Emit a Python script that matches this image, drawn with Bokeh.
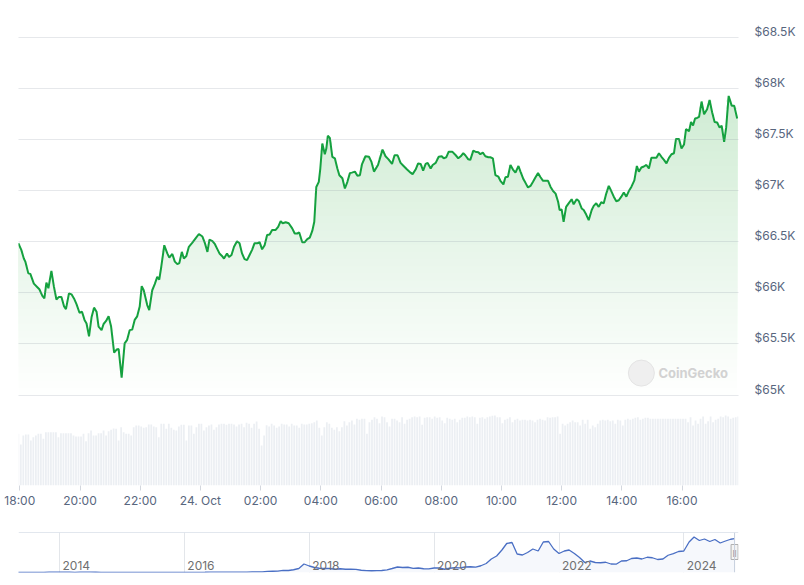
import numpy as np
import pandas as pd
from bokeh.plotting import figure
from bokeh.models import Range1d, FixedTicker, CustomJSTickFormatter, Span
from bokeh.layouts import column
from bokeh.embed import file_html
from bokeh.resources import INLINE
from bokeh.core.properties import value

# ---------------- data ----------------
start_time = "2024-10-23 18:00"   # reference time for offsets (minutes)

price_minutes = [
    -3, 3, 8, 11, 17, 21, 28, 35, 39, 45, 49, 53, 57, 63, 68, 73, 78, 83, 88, 92,
    98, 103, 108, 113, 119, 124, 129, 133, 138, 143, 148, 153, 157, 163, 167, 172, 177, 182, 188, 193,
    197, 203, 209, 214, 219, 224, 229, 234, 239, 243, 247, 254, 258, 264, 269, 274, 278, 282, 288, 294,
    298, 304, 309, 314, 318, 323, 327, 332, 337, 344, 350, 357,
    364, 369, 374, 378, 384, 389, 393, 398, 403, 407, 413, 417, 422, 427, 433, 438, 443, 448, 453, 458,
    463, 468, 474, 478, 483, 488, 493, 498, 503, 510, 515, 520, 524, 530, 536, 543, 548, 553, 557, 563,
    568, 573, 578, 583, 587, 591, 596, 599, 603, 608, 611, 614, 618, 623, 628, 633, 637, 643, 648, 653,
    658, 662, 668, 673, 678, 682, 689, 696, 701, 706, 714,
    723, 729, 735, 742, 747, 753, 759, 765, 772, 779, 783, 789, 794, 799, 804, 809, 813, 819, 823, 829,
    835, 841, 845, 850, 855, 862, 869, 874, 879, 884, 888, 894, 898, 904, 908, 914, 918, 923, 928, 934,
    938, 943, 948, 954, 958, 964, 968, 973, 978, 983, 988, 994, 998, 1004, 1008, 1013, 1018, 1023, 1028, 1033,
    1038, 1043, 1048, 1053, 1058, 1063, 1068,
    1073, 1076, 1080, 1084, 1089, 1094, 1100, 1104, 1110, 1114, 1120, 1124, 1129, 1134, 1140, 1144, 1149, 1154, 1159, 1164,
    1169, 1174, 1179, 1184, 1189, 1194, 1199, 1204, 1209, 1214, 1219, 1225, 1230, 1234, 1239, 1244, 1249, 1254, 1259, 1264,
    1269, 1274, 1279, 1284, 1289, 1294, 1299, 1304, 1308, 1314, 1319, 1324, 1328, 1334, 1338, 1342, 1346, 1350, 1354, 1359,
    1364, 1370, 1375, 1380, 1385, 1390, 1395, 1399, 1404, 1408, 1413, 1419, 1424, 1430,
]

price_usd = [
    66485, 66420, 66335, 66305, 66190, 66185, 66090, 66055, 66035, 65970, 65945, 66100, 66045, 66215, 66060, 65935, 65960, 65960, 65870, 65840,
    65995, 65985, 65945, 65890, 65805, 65815, 65735, 65700, 65575, 65760, 65855, 65815, 65670, 65635, 65695, 65725, 65770, 65670, 65415, 65445,
    65450, 65170, 65505, 65540, 65635, 65640, 65735, 65770, 65865, 66065, 66025, 65880, 65830, 66025, 66085, 66155, 66130, 66255, 66465, 66385,
    66345, 66380, 66305, 66280, 66290, 66400, 66335, 66360, 66450, 66490, 66530, 66575,
    66550, 66485, 66400, 66520, 66505, 66475, 66435, 66385, 66360, 66335, 66385, 66350, 66370, 66450, 66505, 66485, 66385, 66330, 66320, 66370,
    66420, 66485, 66485, 66495, 66425, 66465, 66565, 66570, 66615, 66615, 66645, 66700, 66680, 66690, 66680, 66630, 66580, 66580, 66590, 66495,
    66495, 66525, 66540, 66605, 66695, 67035, 67085, 67215, 67460, 67355, 67410, 67535, 67515, 67330, 67315, 67215, 67150, 67120, 67020, 67085,
    67170, 67175, 67185, 67145, 67150, 67255, 67335, 67330, 67280, 67185, 67250,
    67400, 67335, 67305, 67260, 67345, 67345, 67270, 67240, 67205, 67175, 67160, 67205, 67265, 67260, 67195, 67260, 67270, 67215, 67250, 67270,
    67330, 67335, 67315, 67325, 67380, 67380, 67345, 67315, 67335, 67365, 67345, 67305, 67300, 67390, 67380, 67375, 67355, 67370, 67335, 67325,
    67325, 67315, 67150, 67135, 67095, 67060, 67130, 67135, 67250, 67205, 67175, 67240, 67185, 67110, 67075, 67030, 67045, 67085, 67130, 67170,
    67130, 67095, 67095, 67095, 67035, 66995, 66970,
    66890, 66810, 66815, 66695, 66840, 66875, 66915, 66865, 66915, 66900, 66825, 66810, 66765, 66710, 66810, 66850, 66875, 66840, 66885, 66875,
    66970, 67045, 66995, 66940, 66895, 66905, 66940, 66980, 66940, 66995, 67035, 67100, 67240, 67185, 67225, 67235, 67250, 67215, 67320, 67320,
    67320, 67365, 67330, 67300, 67265, 67320, 67355, 67365, 67505, 67505, 67410, 67450, 67600, 67580, 67670, 67635, 67705, 67710, 67720, 67870,
    67745, 67795, 67885, 67765, 67670, 67665, 67615, 67635, 67475, 67615, 67925, 67830, 67830, 67705,
]

# 24h volume (billion USD), one bar every 5 minutes starting at vol_start
vol_start = "2024-10-23 17:57"
vol_step_minutes = 5
volume_bn = [
    31.0, 24.6, 30.0, 30.6, 30.6, 27.0, 29.0, 30.0, 31.0, 31.0,
    28.0, 32.0, 32.0, 32.0, 32.0, 32.0, 29.0, 31.4, 31.4, 31.4,
    31.4, 31.4, 30.0, 29.4, 29.4, 29.4, 31.0, 26.6, 31.4, 33.0,
    30.0, 30.0, 31.4, 31.4, 33.0, 30.0, 32.6, 33.4, 34.2, 34.0,
    27.0, 35.0, 32.0, 31.0, 31.0, 30.0, 35.0, 36.0, 36.0, 35.4,
    34.6, 35.0, 36.6, 36.6, 35.4, 35.0, 29.0, 37.0, 37.0, 34.0,
    37.0, 34.6, 33.4, 33.0, 35.4, 36.4, 36.4, 27.0, 36.0, 36.0,
    31.0, 35.0, 37.0, 37.0, 33.0, 35.0, 36.0, 36.6, 33.4, 35.0,
    36.6, 37.0, 37.0, 36.4, 37.0, 37.0, 36.6, 35.4, 36.6, 37.0,
    35.0, 37.6, 37.0, 34.6, 37.0, 38.4, 34.0, 24.0, 30.0, 36.2,
    35.4, 37.0, 36.0, 34.6, 35.4, 37.0, 36.6, 36.6, 35.4, 37.0,
    36.0, 36.0, 34.6, 37.0, 36.6, 36.6, 37.0, 37.4, 38.0, 39.0,
    34.6, 30.0, 35.0, 38.0, 37.0, 34.6, 33.4, 35.0, 32.6, 35.0,
    38.6, 36.0, 38.0, 39.0, 36.6, 40.0, 39.4, 40.0, 40.0, 31.0,
    38.0, 39.4, 41.0, 40.0, 37.4, 41.4, 41.0, 38.0, 35.4, 40.0,
    40.0, 39.0, 38.0, 41.0, 37.0, 39.4, 40.0, 41.0, 41.4, 41.0,
    41.4, 36.4, 40.6, 41.0, 41.0, 40.0, 41.4, 40.6, 41.0, 39.0,
    37.4, 40.6, 40.0, 39.4, 40.0, 38.0, 39.4, 40.6, 40.6, 41.4,
    41.0, 41.4, 41.0, 37.0, 40.6, 41.0, 40.0, 41.0, 41.4, 41.8,
    42.0, 41.0, 41.0, 37.4, 39.4, 40.0, 41.0, 38.0, 39.4, 40.0,
    39.0, 39.4, 39.4, 39.0, 39.4, 39.0, 38.0, 39.4, 40.0, 39.4,
    39.0, 41.0, 40.6, 41.0, 41.0, 41.4, 31.0, 37.0, 36.0, 37.0,
    38.0, 39.0, 38.0, 38.0, 36.0, 39.4, 37.0, 39.4, 34.0, 36.0,
    35.0, 37.0, 39.0, 39.4, 39.0, 39.4, 38.6, 39.0, 37.0, 39.4,
    39.0, 36.0, 39.4, 40.0, 39.4, 40.0, 40.6, 41.0, 39.4, 40.0,
    40.6, 40.6, 40.0, 40.0, 40.0, 40.0, 40.0, 40.0, 40.0, 40.0,
    40.0, 40.0, 40.0, 40.0, 40.0, 40.0, 40.0, 38.0, 41.0, 36.0,
    39.0, 37.0, 40.0, 41.4, 37.0, 38.6, 41.4, 38.0, 39.4, 40.0,
    41.4, 41.0, 42.0, 41.4, 40.0, 40.6, 41.0, 41.4,
]

price_ticks = [65000, 65500, 66000, 66500, 67000, 67500, 68000, 68500]
time_tick_hours = [0, 2, 4, 6, 8, 10, 12, 14, 16, 18, 20, 22]
time_tick_labels = ["18:00", "20:00", "22:00", "24. Oct", "02:00", "04:00",
                    "06:00", "08:00", "10:00", "12:00", "14:00", "16:00"]

# Navigator: monthly BTC price (USD), from May 2013
nav_first_month = "2013-05-01"
nav_monthly_usd = [
    120, 110, 90, 120, 130, 180, 700, 750,
    850, 600, 550, 450, 600, 620, 590, 500, 400, 350, 380, 330,
    250, 240, 260, 230, 235, 240, 280, 230, 235, 270, 330, 430,
    400, 420, 410, 430, 500, 650, 660, 580, 600, 650, 730, 900,
    950, 1100, 1100, 1300, 2200, 2500, 2700, 4300, 4000, 5500, 8000, 17000,
    13000, 10000, 8500, 8000, 8000, 6500, 7500, 6500, 6500, 6400, 4500, 3800,
    3500, 3800, 4000, 5200, 8000, 11000, 10000, 10500, 8300, 9000, 7500, 7200,
    9000, 9000, 6500, 8500, 9500, 9200, 11000, 11500, 10800, 13500, 18000, 27000,
    33000, 45000, 58000, 60000, 37000, 35000, 40000, 47000, 43000, 61000, 62000, 47000,
    38000, 43000, 45000, 38000, 30000, 20000, 23000, 20000, 19500, 20500, 17000, 16600,
    23000, 23500, 28000, 29000, 27000, 30500, 29500, 26000, 27000, 34500, 37700, 42000,
    43000, 61000, 71000, 64000, 67000, 62000, 66000, 59000, 63000, 66500,
]
nav_last_date = "2024-10-24"
nav_last_usd = 67700
nav_years = [2014, 2016, 2018, 2020, 2022, 2024]

# ---------------- styles ----------------
GREEN = "#15a13f"
FILL_TOP = (198, 232, 203)      # gradient colour at the top of the price pane
FILL_BOTTOM = (255, 255, 255)   # ... fading to white at its bottom
FONT = "Inter"
LABEL_COLOR = "#58667e"

base = pd.Timestamp(start_time)
t_price = base + pd.to_timedelta(price_minutes, unit="m")
price = np.array(price_usd, dtype=float)
t_vol = pd.Timestamp(vol_start) + pd.to_timedelta(np.arange(len(volume_bn)) * vol_step_minutes, unit="m")

x_start = base - pd.Timedelta(minutes=2.6)
x_end = base + pd.Timedelta(minutes=1432.6)

p = figure(width=804, height=515, x_axis_type="datetime",
           x_range=Range1d(x_start, x_end), y_range=Range1d(64116, 68506),
           y_axis_location="right",
           output_backend="svg", toolbar_location=None,
           min_border_left=18, min_border_right=66, min_border_top=36, min_border_bottom=30)
p.outline_line_color = None
p.background_fill_color = "white"
p.border_fill_color = "white"

# volume bars on their own scale
p.extra_y_ranges = {"vol": Range1d(0, 269.4)}
p.vbar(x=t_vol, top=volume_bn, bottom=0, width=3.5 * 60000, y_range_name="vol",
       fill_color="#eceff3", line_color=None)

# vertical gradient under the line: opaque layers, each covering from its level up to the line
pane_lo, pane_hi = price_ticks[0], price_ticks[-1]
levels = np.linspace(pane_lo, pane_hi, 51)[:-1]
for lo in levels:
    f = (lo + (levels[1] - levels[0]) / 2 - pane_lo) / (pane_hi - pane_lo)
    rgb = tuple(int(round(b + (t - b) * f)) for t, b in zip(FILL_TOP, FILL_BOTTOM))
    p.varea(x=t_price, y1=lo, y2=np.maximum(price, lo),
            fill_color="#%02x%02x%02x" % rgb, fill_alpha=1.0)

p.line(t_price, price, line_color=GREEN, line_width=2)

# watermark
wm_t = base + pd.Timedelta(minutes=1239)
p.scatter(x=[wm_t], y=[65215], size=26, fill_color="#efefef", line_color="#e4e4e4")
p.text(x=[wm_t], y=[65215], text=["CoinGecko"], x_offset=17, text_baseline="middle",
       text_font=value(FONT), text_font_size="13px", text_font_style="bold", text_color="#d2d2d2")

# grids / axes
p.xgrid.visible = False
p.ygrid.ticker = FixedTicker(ticks=price_ticks)
p.ygrid.level = "guide"
p.ygrid.grid_line_color = "#8f98a6"
p.ygrid.grid_line_alpha = 0.22

p.yaxis.ticker = FixedTicker(ticks=price_ticks)
# second (blank) line lifts each label a little above its grid line
p.yaxis.formatter = CustomJSTickFormatter(code="return '$' + (tick/1000) + 'K\\n ';")
p.yaxis.axis_line_color = None
p.yaxis.major_tick_line_color = None
p.yaxis.minor_tick_line_color = None
p.yaxis.major_tick_out = 0
p.yaxis.major_tick_in = 0
p.yaxis.major_label_standoff = 16
p.yaxis.major_label_text_font = FONT
p.yaxis.major_label_text_font_size = "12px"
p.yaxis.major_label_text_line_height = 0.8
p.yaxis.major_label_text_color = LABEL_COLOR

x_ticks = [int((base + pd.Timedelta(hours=h)).value // 10**6) for h in time_tick_hours]
p.xaxis.ticker = FixedTicker(ticks=x_ticks)
p.xaxis.major_label_overrides = dict(zip(x_ticks, time_tick_labels))
p.xaxis.axis_line_color = None
p.xaxis.major_tick_line_color = "#d3d7de"
p.xaxis.major_tick_out = 5
p.xaxis.major_tick_in = 0
p.xaxis.minor_tick_line_color = None
p.xaxis.major_label_standoff = 2
p.xaxis.major_label_text_font = FONT
p.xaxis.major_label_text_font_size = "12px"
p.xaxis.major_label_text_color = LABEL_COLOR

# ---------------- navigator ----------------
nav_dates = list(pd.date_range(nav_first_month, periods=len(nav_monthly_usd), freq="MS")) + [pd.Timestamp(nav_last_date)]
nav_vals = nav_monthly_usd + [nav_last_usd]

nav = figure(width=804, height=70, x_axis_type="datetime",
             x_range=Range1d(pd.Timestamp("2013-05-06"), pd.Timestamp("2024-11-16")),
             y_range=Range1d(0, 80000),
             x_axis_location=None, y_axis_location=None,
             output_backend="svg", toolbar_location=None,
             min_border_left=18, min_border_right=63, min_border_top=17, min_border_bottom=13)
nav.outline_line_color = None
nav.ygrid.visible = False
year_dates = [pd.Timestamp(f"{y}-01-01") for y in nav_years]
nav.xgrid.ticker = FixedTicker(ticks=[int(d.value // 10**6) for d in year_dates])
nav.xgrid.grid_line_color = "#e3e6ea"

nav.varea(x=nav_dates, y1=0, y2=nav_vals, fill_color="#f6f8fc", fill_alpha=1.0)
nav.line(nav_dates, nav_vals, line_color="#4a6fc4", line_width=1.3)

nav.text(x=year_dates, y=[0] * len(year_dates), text=[str(y) for y in nav_years],
         x_offset=3, y_offset=-3, text_baseline="bottom",
         text_font=value(FONT), text_font_size="12px", text_color="#707070")

nav.add_layout(Span(location=80000, dimension="width", line_color="#c6cfdd", line_width=1))
end_ms = int(pd.Timestamp(nav_last_date).value // 10**6)
nav.add_layout(Span(location=end_ms, dimension="height", line_color="#c6cfdd", line_width=1))
nav.rect(x=[pd.Timestamp(nav_last_date)], y=[41000], width=7, height=15,
         width_units="screen", height_units="screen",
         fill_color="#f4f4f4", line_color="#b0b0b0")
nav.text(x=[pd.Timestamp(nav_last_date)], y=[41000], text=["||"], text_align="center",
         text_baseline="middle", text_font_size="8px", text_color="#888888")

layout = column(p, nav, spacing=0)
open("out.html", "w").write(file_html(layout, INLINE))
